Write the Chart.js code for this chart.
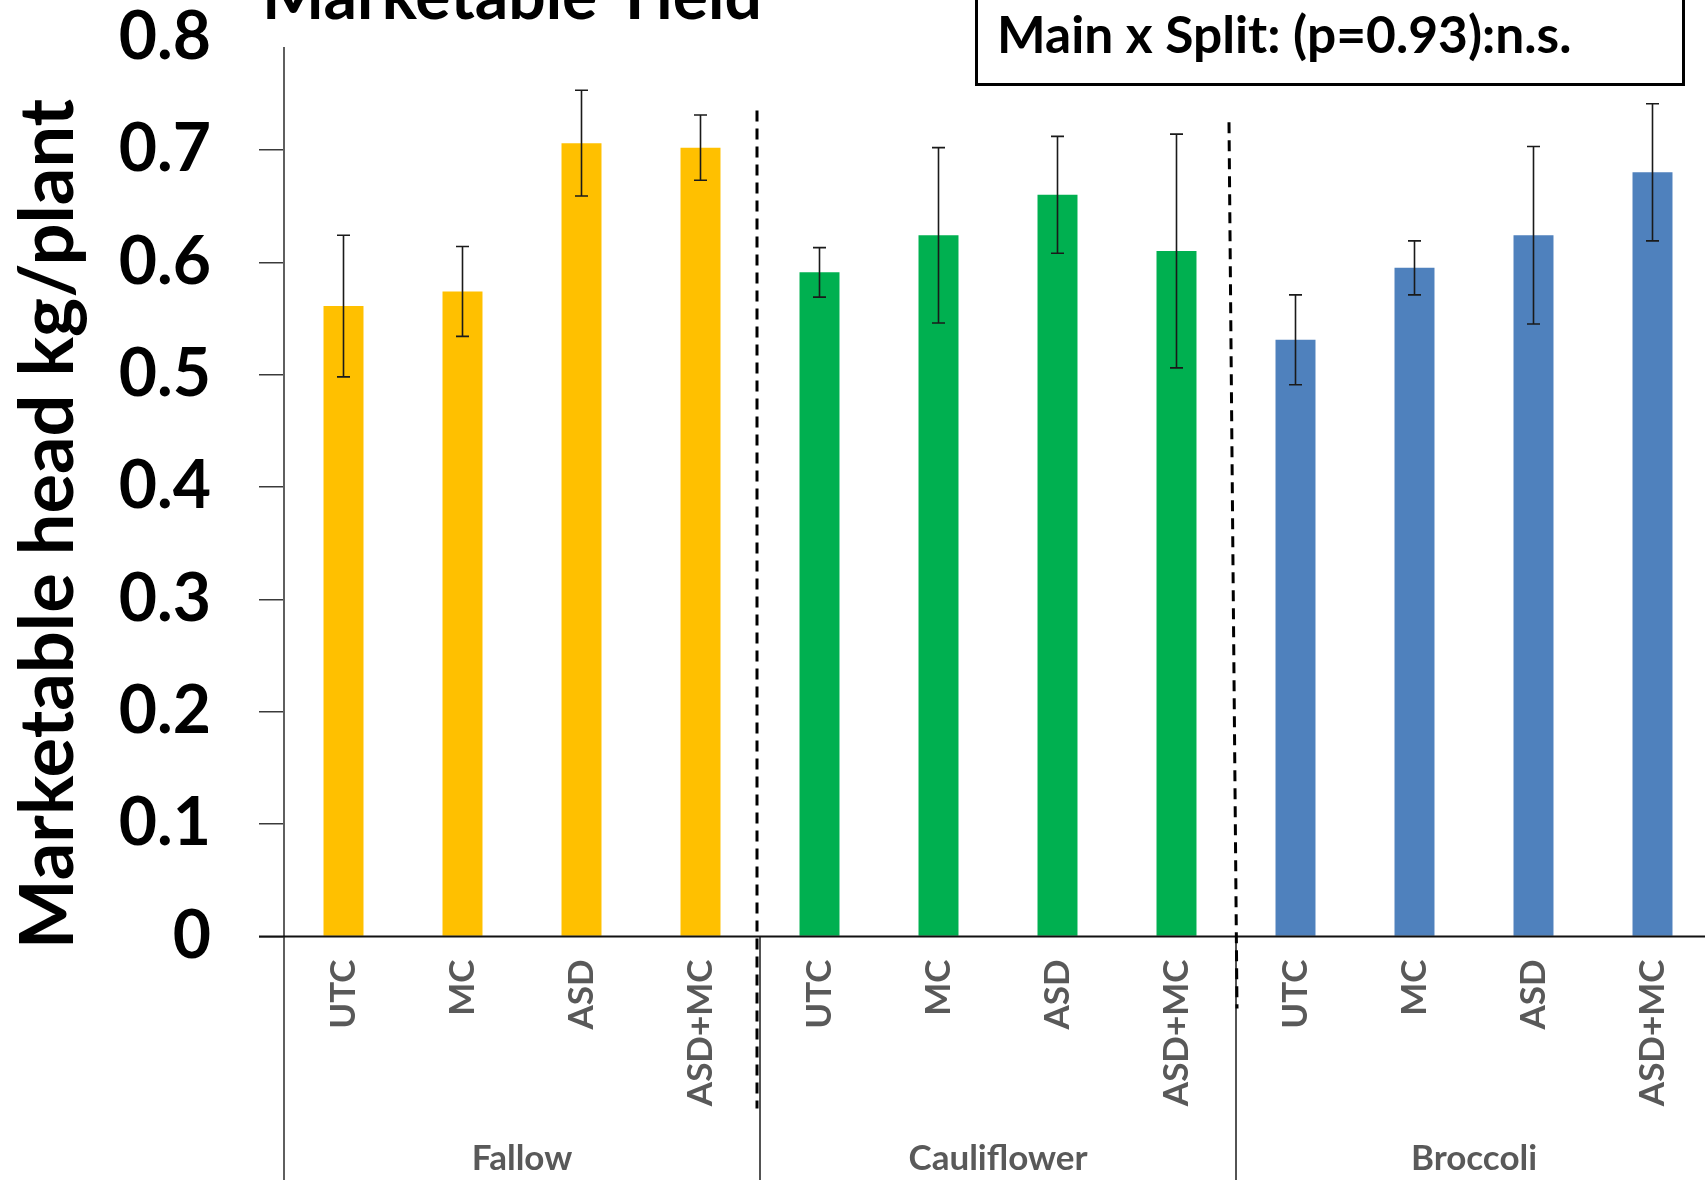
<!DOCTYPE html>
<html>
<head>
<meta charset="utf-8">
<title>Marketable Yield</title>
<script src="https://cdn.jsdelivr.net/npm/chart.js@4.4.1/dist/chart.umd.min.js"></script>
<style>
  html, body { margin: 0; padding: 0; background: #fff; overflow: hidden; width: 1705px; height: 1180px; }
  #wrap { position: absolute; left: 0; top: 0; width: 1720px; height: 1180px; }
  #stats {
    position: absolute; left: 975px; top: -10px; width: 704px; height: 90px;
    border: 3px solid #000; background: #fff; box-sizing: content-box;
  }
  #stats span {
    position: absolute; left: 19px; top: 15px; white-space: nowrap;
    font: bold 51.5px Lato, sans-serif; line-height: 1; color: #000;
  }
</style>
</head>
<body>
<div id="wrap"><canvas id="chart" width="1720" height="1180"></canvas></div>
<div id="stats"><span id="statsText"></span></div>
<script>
// Treatments within each main plot, and the main plots themselves
const TREATMENTS = ['UTC', 'MC', 'ASD', 'ASD+MC'];
const GROUPS = ['Fallow', 'Cauliflower', 'Broccoli'];

// Mean marketable head weight (kg/plant) and standard error per treatment
const FALLOW_YIELD = [0.561, 0.574, 0.706, 0.702];
const FALLOW_SE = [0.063, 0.040, 0.047, 0.029];
const CAULIFLOWER_YIELD = [0.591, 0.624, 0.660, 0.610];
const CAULIFLOWER_SE = [0.022, 0.078, 0.052, 0.104];
const BROCCOLI_YIELD = [0.531, 0.595, 0.624, 0.680];
const BROCCOLI_SE = [0.040, 0.024, 0.079, 0.061];

const Y_TICKS = ['0', '0.1', '0.2', '0.3', '0.4', '0.5', '0.6', '0.7', '0.8'];

const TITLE = 'Marketable Yield';
const Y_TITLE = 'Marketable head kg/plant';
const STATS_TEXT = 'Main x Split: (p=0.93):n.s.';

// Styling
const GROUP_COLORS = ['#FFC000', '#00B050', '#4F81BD'];
const FONT = 'Lato, "Open Sans", sans-serif';
const LABEL_GREY = '#595959';
const CAP = 6.5;                 // half width of error bar caps
const AXIS_TOP_VALUE = 0.7915;   // where the drawn y axis line starts
const DIVIDER_TOP = [0.735, 0.7245];   // dashed separators start (data units)
const DIVIDER_DROP = [172, 72];        // dashed separators end, px below the x axis
const DIVIDER_SHIFT = [[-3, -3], [-7, 1]]; // dashed separator x offsets (top, bottom)

document.getElementById('statsText').textContent = STATS_TEXT;

const yields = [FALLOW_YIELD, CAULIFLOWER_YIELD, BROCCOLI_YIELD];
const errors = [FALLOW_SE, CAULIFLOWER_SE, BROCCOLI_SE];
const labels = GROUPS.flatMap(() => TREATMENTS);
const values = yields.flat();
const errs = errors.flat();
const colors = GROUP_COLORS.flatMap(c => TREATMENTS.map(() => c));

const decor = {
  id: 'decor',
  afterDatasetsDraw(chart) {
    const { ctx, scales: { y } } = chart;
    const meta = chart.getDatasetMeta(0);
    ctx.save();
    ctx.strokeStyle = '#1a1a1a';
    ctx.lineWidth = 1.6;
    meta.data.forEach((bar, i) => {
      const top = y.getPixelForValue(values[i] + errs[i]);
      const bot = y.getPixelForValue(values[i] - errs[i]);
      ctx.beginPath();
      ctx.moveTo(bar.x, top); ctx.lineTo(bar.x, bot);
      ctx.moveTo(bar.x - CAP, top); ctx.lineTo(bar.x + CAP, top);
      ctx.moveTo(bar.x - CAP, bot); ctx.lineTo(bar.x + CAP, bot);
      ctx.stroke();
    });
    ctx.restore();
  },
  afterDraw(chart) {
    const { ctx, chartArea, scales: { x, y } } = chart;
    const H = chart.height, W = chart.width;
    const axisY = y.getPixelForValue(0);
    const n = TREATMENTS.length;
    const boundary = g => (x.getPixelForValue(g * n - 1) + x.getPixelForValue(g * n)) / 2;

    ctx.save();
    // y axis line, continuing down as the left edge of the category block
    ctx.strokeStyle = '#5f5f5f';
    ctx.lineWidth = 2;
    ctx.beginPath();
    ctx.moveTo(chartArea.left, y.getPixelForValue(AXIS_TOP_VALUE));
    ctx.lineTo(chartArea.left, H);
    ctx.stroke();

    // solid separators between main plots below the axis
    ctx.strokeStyle = '#1a1a1a';
    ctx.lineWidth = 1.5;
    for (let g = 1; g < GROUPS.length; g++) {
      const bx = boundary(g);
      ctx.beginPath();
      ctx.moveTo(bx, axisY); ctx.lineTo(bx, H);
      ctx.stroke();
    }

    // x axis line
    ctx.strokeStyle = '#111';
    ctx.lineWidth = 2;
    ctx.beginPath();
    ctx.moveTo(chartArea.left - y.options.grid.tickLength, axisY);
    ctx.lineTo(W, axisY);
    ctx.stroke();

    // dashed separators between main plots
    ctx.strokeStyle = '#000';
    ctx.lineWidth = 3;
    ctx.setLineDash([11, 7]);
    for (let g = 1; g < GROUPS.length; g++) {
      const bx = boundary(g);
      const sh = DIVIDER_SHIFT[g - 1];
      ctx.beginPath();
      ctx.moveTo(bx + sh[0], y.getPixelForValue(DIVIDER_TOP[g - 1]));
      ctx.lineTo(bx + sh[1], axisY + DIVIDER_DROP[g - 1]);
      ctx.stroke();
    }
    ctx.setLineDash([]);

    // chart title
    ctx.fillStyle = '#000';
    ctx.font = 'bold 66px ' + FONT;
    ctx.textAlign = 'center';
    ctx.textBaseline = 'alphabetic';
    ctx.fillText(TITLE, 512, 18.5);

    // y axis title
    ctx.font = 'bold 74px ' + FONT;
    ctx.textBaseline = 'middle';
    ctx.translate(49, 524);
    ctx.rotate(-Math.PI / 2);
    ctx.fillText(Y_TITLE, 0, 0);
    ctx.restore();
  }
};

new Chart(document.getElementById('chart'), {
  type: 'bar',
  data: {
    labels: labels,
    datasets: [{
      data: values,
      backgroundColor: colors,
      borderWidth: 0,
      categoryPercentage: 1,
      barPercentage: 0.336
    }]
  },
  options: {
    responsive: false,
    animation: false,
    devicePixelRatio: 1,
    layout: { padding: { top: 37.5, right: 8, left: 0, bottom: 0 } },
    plugins: { legend: { display: false }, tooltip: { enabled: false }, title: { display: false } },
    scales: {
      x: {
        type: 'category',
        offset: true,
        weight: 0,
        grid: { display: false, drawTicks: false },
        border: { display: false },
        ticks: {
          autoSkip: false, minRotation: 90, maxRotation: 90, padding: 23,
          color: LABEL_GREY, font: { family: FONT, weight: 'bold', size: 35 }
        },
        afterFit: s => { s.height = 185; }
      },
      x2: {
        type: 'category',
        labels: GROUPS,
        offset: true,
        position: 'bottom',
        weight: 1,
        grid: { display: false, drawTicks: false },
        border: { display: false },
        ticks: {
          autoSkip: false, maxRotation: 0, minRotation: 0, padding: 16,
          color: LABEL_GREY, font: { family: FONT, weight: 'bold', size: 35 }
        },
        afterFit: s => { s.height = 58.5; }
      },
      y: {
        min: 0, max: 0.8,
        ticks: {
          stepSize: 0.1, padding: 48, color: '#000',
          font: { family: FONT, weight: 'bold', size: 66, lineHeight: 1 },
          callback: (v, i) => Y_TICKS[i]
        },
        grid: {
          drawOnChartArea: false, drawTicks: true, tickLength: 25, lineWidth: 1.5,
          color: c => (c.tick && c.tick.value > 0.75) ? 'rgba(0,0,0,0)' : '#3a3a3a'
        },
        border: { display: false },
        afterFit: s => { s.width = 284; s.paddingTop = 0; s.paddingBottom = 0; }
      }
    }
  },
  plugins: [decor]
});
</script>
</body>
</html>
